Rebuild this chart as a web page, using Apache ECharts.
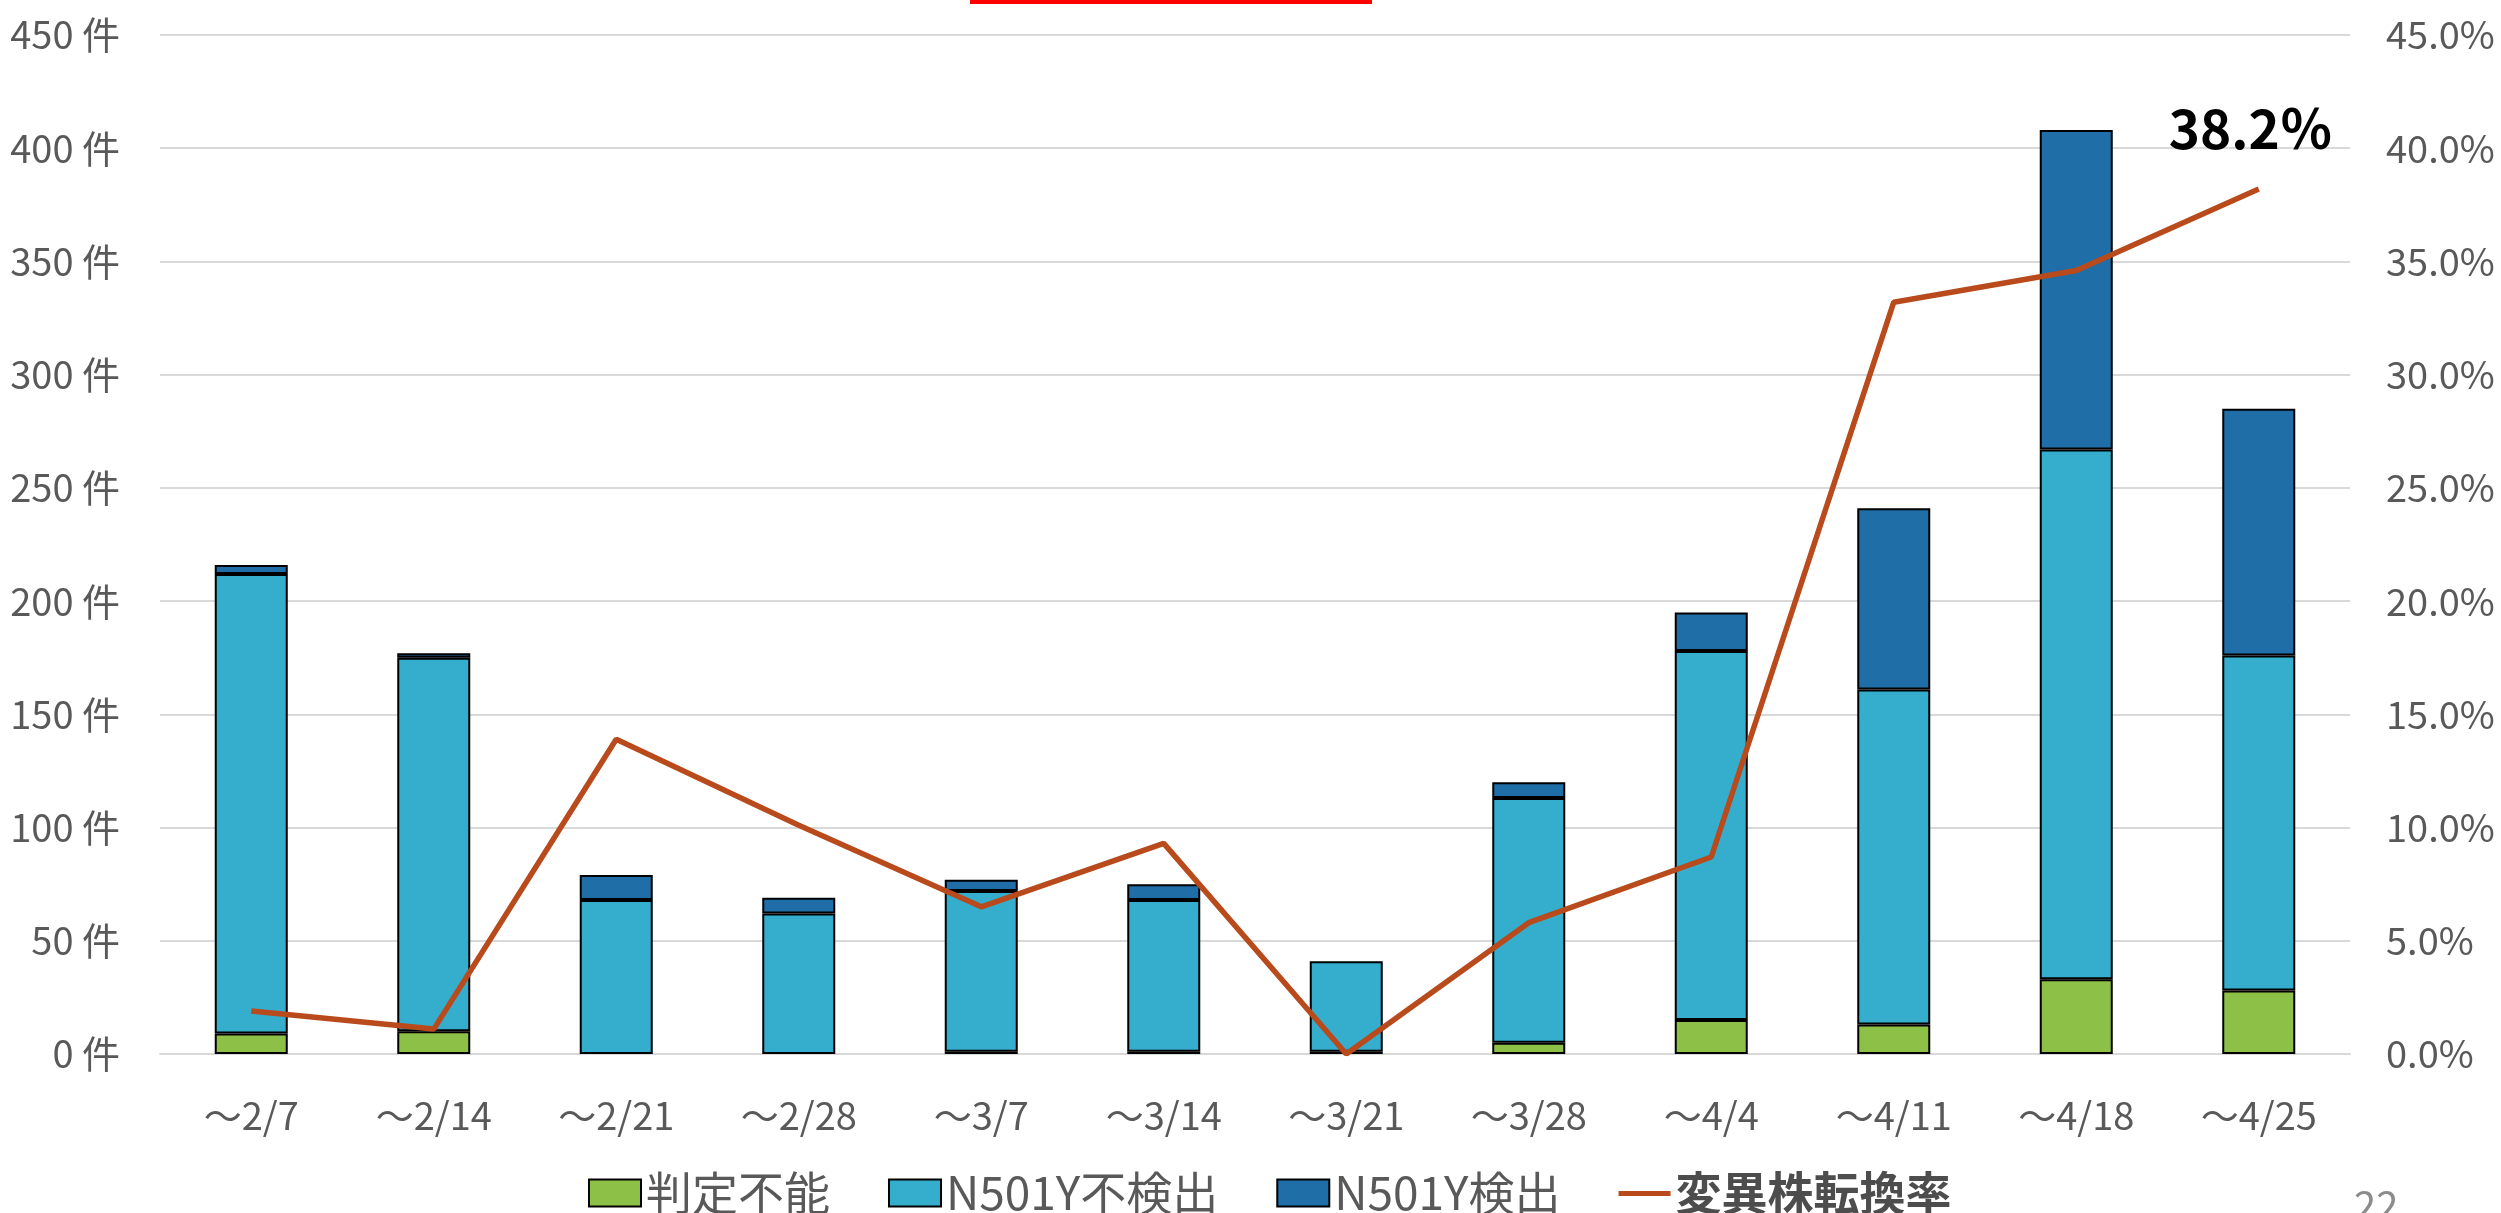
<!DOCTYPE html>
<html>
<head>
<meta charset="utf-8">
<script src="https://cdn.jsdelivr.net/npm/echarts@6/dist/echarts.min.js"></script>
<style>
  html, body { margin: 0; padding: 0; background: #fff; }
  #chart { width: 2501px; height: 1213px; }
</style>
</head>
<body>
<div id="chart"></div>
<script>
// 週ごとの検査件数
const categories = ['～2/7', '～2/14', '～2/21', '～2/28', '～3/7', '～3/14', '～3/21', '～3/28', '～4/4', '～4/11', '～4/18', '～4/25'];
const undetermined = [9, 10, 0, 0, 1, 1, 1, 5, 15, 13, 33, 28];          // 判定不能
const notDetected = [203, 165, 68, 62, 71, 67, 40, 108, 163, 148, 234, 148]; // N501Y不検出
const detected = [4, 2, 11, 7, 5, 7, 0, 7, 17, 80, 141, 109];             // N501Y検出
const conversionRate = [1.9, 1.1, 13.9, 10.1, 6.5, 9.3, 0.0, 5.8, 8.7, 33.2, 34.6, 38.2]; // 変異株転換率 (%)

const FONT = '"Noto Sans CJK JP", "Noto Sans", sans-serif';
const labelColor = '#595959';
const gridColor = '#d9d9d9';
const lineColor = '#b84a1c';

function barSeries(name, data, color) {
  return {
    name: name,
    type: 'bar',
    stack: 'total',
    barWidth: 73,
    // 0件の区間は描かない（枠線が残るため）
    data: data.map(function (v) { return v === 0 ? null : v; }),
    itemStyle: {
      color: color,
      borderColor: '#000',
      borderWidth: 2,
    },
  };
}

const lastIdx = conversionRate.length - 1;
const rateData = conversionRate.map(function (v, i) {
  if (i !== lastIdx) return v;
  return {
    value: v,
    label: {
      show: true,
      position: 'top',
      distance: 34,
      offset: [-8, 0],
      formatter: '{c}％',
      fontFamily: FONT,
      fontSize: 53,
      fontWeight: 'bold',
      color: '#000',
    },
  };
});

const myChart = echarts.init(document.getElementById('chart'), null, { renderer: 'canvas' });
const option = {
  backgroundColor: '#fff',
  animation: false,
  textStyle: { fontFamily: FONT },
  grid: {
    left: 160,
    right: 151,
    top: 35,
    bottom: 159,
    containLabel: false,
    outerBoundsMode: 'none',
  },
  legend: {
    left: 583,
    top: 1165,
    itemWidth: 52,
    itemHeight: 27,
    itemGap: 58,
    textStyle: { fontFamily: FONT, fontSize: 46, color: labelColor },
    data: [
      { name: '判定不能', icon: 'rect' },
      { name: 'N501Y不検出', icon: 'rect' },
      { name: 'N501Y検出', icon: 'rect' },
      {
        name: '変異株転換率',
        icon: 'path://M0,0L1,0M0,11.5H52V16.5H0ZM0,27L1,27',
        itemStyle: { color: lineColor, borderWidth: 0 },
        textStyle: { fontWeight: 'bold', color: '#4d4d4d' },
      },
    ],
  },
  xAxis: {
    type: 'category',
    data: categories,
    boundaryGap: true,
    axisLine: { show: true, lineStyle: { color: gridColor, width: 2 } },
    axisTick: { show: false },
    axisLabel: { color: labelColor, fontSize: 38, margin: 43, fontFamily: FONT },
  },
  yAxis: [
    {
      type: 'value',
      min: 0,
      max: 450,
      interval: 50,
      axisLine: { show: false },
      axisTick: { show: false },
      axisLabel: {
        color: labelColor,
        fontSize: 38,
        margin: 40,
        fontFamily: FONT,
        formatter: function (value) {
          return value + ' 件';
        },
      },
      splitLine: { show: true, lineStyle: { color: gridColor, width: 2 } },
    },
    {
      type: 'value',
      min: 0,
      max: 45,
      interval: 5,
      axisLine: { show: false },
      axisTick: { show: false },
      axisLabel: {
        color: labelColor,
        fontSize: 38,
        margin: 36,
        fontFamily: FONT,
        formatter: function (value) {
          return value.toFixed(1) + '%';
        },
      },
      splitLine: { show: false },
    },
  ],
  series: [
    barSeries('判定不能', undetermined, '#8cc046'),
    barSeries('N501Y不検出', notDetected, '#35aecd'),
    barSeries('N501Y検出', detected, '#1f6ea8'),
    {
      name: '変異株転換率',
      type: 'line',
      yAxisIndex: 1,
      data: rateData,
      symbol: 'circle',
      symbolSize: 0,
      lineStyle: { color: lineColor, width: 5.5 },
      itemStyle: { color: lineColor },
      z: 5,
    },
  ],
  graphic: [
    {
      type: 'rect',
      left: 970,
      top: 0,
      shape: { width: 402, height: 4 },
      style: { fill: '#ff0000' },
    },
    {
      type: 'text',
      left: 2354,
      top: 1186,
      style: { text: '22', fontSize: 40, fontFamily: FONT, fill: '#8c8c8c' },
    },
  ],
};
myChart.setOption(option);
window.onresize = myChart.resize;
</script>
</body>
</html>
